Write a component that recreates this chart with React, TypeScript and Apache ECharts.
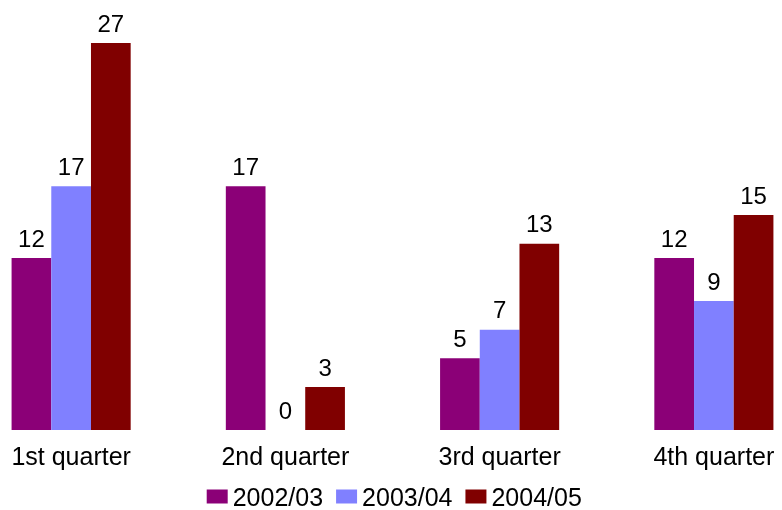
import React, { useEffect, useRef } from "react";
import * as echarts from "echarts";

const categories = ["1st quarter", "2nd quarter", "3rd quarter", "4th quarter"];
const seriesNames = ["2002/03", "2003/04", "2004/05"];
const values2002 = [12, 17, 5, 12];
const values2003 = [17, 0, 7, 9];
const values2004 = [27, 3, 13, 15];
const colors = ["#8B0077", "#8080FF", "#800000"];

const FONT = "'Liberation Sans', Arial, sans-serif";
const OFFSET_LEFT = -35.7;
const CHART_WIDTH = 857.4;

export default function App() {
  const ref = useRef<HTMLDivElement>(null);
  useEffect(() => {
    if (!ref.current) return;
    const chart = echarts.init(ref.current, null, { renderer: "svg" });
    const data = [values2002, values2003, values2004];
    chart.setOption({
      animation: false,
      textStyle: { fontFamily: FONT },
      grid: { left: 0, right: 0, top: -1.4, bottom: 80, containLabel: false },
      legend: {
        data: seriesNames,
        top: 484,
        left: 207 - OFFSET_LEFT,
        padding: 0,
        itemWidth: 21,
        itemHeight: 14,
        itemGap: 13,
        icon: "rect",
        textStyle: { fontSize: 25, lineHeight: 20, color: "#000", fontFamily: FONT },
      },
      xAxis: {
        type: "category",
        data: categories,
        axisLine: { show: false },
        axisTick: { show: false },
        axisLabel: { fontSize: 25, color: "#000", margin: 13, fontFamily: FONT },
      },
      yAxis: {
        type: "value",
        min: 0,
        max: 30,
        show: false,
        splitLine: { show: false },
      },
      series: seriesNames.map((name, i) => ({
        name,
        type: "bar",
        data: data[i],
        barWidth: 39.7,
        barGap: "0%",
        itemStyle: { color: colors[i] },
        label: {
          show: true,
          position: "top",
          distance: 8,
          fontSize: 24,
          color: "#000",
          fontFamily: FONT,
        },
      })),
    });
    return () => chart.dispose();
  }, []);
  return (
    <div
      ref={ref}
      style={{ position: "fixed", left: OFFSET_LEFT, top: 0, width: CHART_WIDTH, height: 510 }}
    />
  );
}
